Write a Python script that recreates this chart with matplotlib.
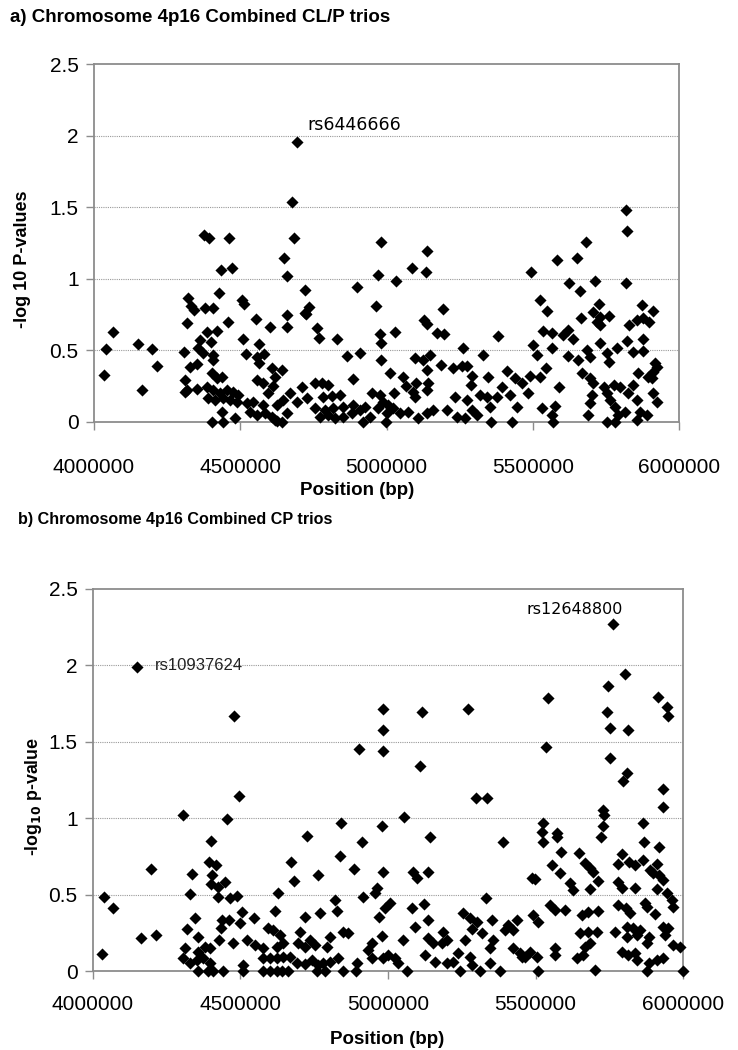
import matplotlib
matplotlib.use("Agg")
import matplotlib.pyplot as plt
import numpy as np

plt.rcParams['font.family'] = ['Liberation Sans', 'DejaVu Sans']

# (position in kb, -log10 p), panel a: CL/P trios
snps_a = [
    (4693, 1.96), (4678, 1.54), (4683, 1.285), (4376, 1.31), (4394, 1.285), (4463, 1.285),
    (4648, 1.15), (4660, 1.02), (4433, 1.06), (4472, 1.08), (4720, 0.92), (4721, 0.76),
    (4320, 0.87), (4427, 0.905), (4332, 0.81), (4343, 0.78), (4380, 0.795), (4406, 0.80),
    (4506, 0.853), (4514, 0.825), (4319, 0.695), (4457, 0.70), (4553, 0.72), (4602, 0.667),
    (4659, 0.748), (4659, 0.667), (4066, 0.627), (4040, 0.508), (4034, 0.33), (4152, 0.543),
    (4199, 0.508), (4217, 0.392), (4165, 0.224), (4309, 0.492), (4362, 0.574), (4385, 0.632),
    (4419, 0.637), (4399, 0.562), (4357, 0.515), (4374, 0.48), (4408, 0.469), (4406, 0.434),
    (4508, 0.578), (4565, 0.543), (4519, 0.473), (4556, 0.457), (4581, 0.473), (4565, 0.41),
    (4328, 0.387), (4353, 0.404), (4311, 0.294), (4317, 0.224), (4351, 0.229), (4402, 0.341),
    (4419, 0.306), (4436, 0.317), (4387, 0.247), (4408, 0.224), (4431, 0.201), (4454, 0.224),
    (4476, 0.212), (4493, 0.189), (4391, 0.166), (4414, 0.154), (4442, 0.166), (4465, 0.154),
    (4488, 0.142), (4402, 0.003), (4442, 0.003), (4482, 0.026), (4436, 0.073), (4607, 0.376),
    (4642, 0.364), (4619, 0.317), (4556, 0.294), (4579, 0.271), (4613, 0.252), (4596, 0.201),
    (4545, 0.142), (4579, 0.119), (4533, 0.073), (4556, 0.049), (4585, 0.061), (4607, 0.038),
    (4625, 0.01), (4642, 0.003), (4659, 0.061), (4670, 0.201), (4693, 0.142), (4710, 0.247),
    (4727, 0.166), (4619, 0.014), (4522, 0.131), (4625, 0.119), (4647, 0.154), (4311, 0.212),
    (4980, 1.261), (5137, 1.196), (4970, 1.028), (5086, 1.079), (5134, 1.047), (5033, 0.986),
    (4898, 0.947), (4964, 0.814), (5192, 0.79), (4736, 0.802), (4725, 0.753), (4764, 0.66),
    (4770, 0.585), (4830, 0.578), (4976, 0.613), (4981, 0.55), (5029, 0.632), (5128, 0.714),
    (5137, 0.686), (5174, 0.62), (5198, 0.613), (5382, 0.604), (5260, 0.515), (5329, 0.469),
    (4864, 0.462), (4909, 0.485), (4980, 0.434), (5098, 0.445), (5126, 0.434), (5149, 0.469),
    (5137, 0.364), (5185, 0.399), (5226, 0.376), (5257, 0.394), (5276, 0.394), (5012, 0.341),
    (4887, 0.299), (5058, 0.317), (5067, 0.252), (5101, 0.271), (5092, 0.212), (5143, 0.271),
    (5137, 0.224), (5291, 0.322), (5288, 0.259), (5348, 0.313), (5411, 0.359), (5439, 0.306),
    (5394, 0.243), (4756, 0.271), (4778, 0.275), (4801, 0.259), (4784, 0.177), (4813, 0.182),
    (4841, 0.189), (4756, 0.096), (4790, 0.084), (4818, 0.096), (4852, 0.107), (4887, 0.119),
    (4909, 0.084), (4927, 0.107), (4773, 0.038), (4801, 0.049), (4824, 0.026), (4852, 0.038),
    (4881, 0.061), (4919, 0.003), (4944, 0.038), (4949, 0.201), (4978, 0.189), (4989, 0.142),
    (5006, 0.119), (5026, 0.201), (4972, 0.096), (5001, 0.061), (4998, 0.003), (5023, 0.096),
    (5046, 0.061), (5075, 0.073), (5109, 0.026), (5137, 0.061), (5160, 0.084), (5098, 0.177),
    (5206, 0.084), (5234, 0.177), (5240, 0.038), (5268, 0.026), (5274, 0.154), (5291, 0.084),
    (5308, 0.049), (5320, 0.189), (5343, 0.177), (5354, 0.107), (5377, 0.177), (5356, 0.003),
    (5422, 0.189), (5445, 0.107),
    (5818, 1.483), (5823, 1.336), (5681, 1.261), (5582, 1.133), (5650, 1.145), (5493, 1.049),
    (5624, 0.97), (5662, 0.919), (5713, 0.986), (5818, 0.975), (5523, 0.853), (5548, 0.779),
    (5728, 0.825), (5707, 0.772), (5730, 0.737), (5759, 0.741), (5719, 0.702), (5730, 0.679),
    (5665, 0.725), (5872, 0.818), (5910, 0.776), (5830, 0.679), (5858, 0.714), (5878, 0.725),
    (5899, 0.702), (5536, 0.637), (5565, 0.62), (5602, 0.609), (5622, 0.644), (5502, 0.539),
    (5514, 0.469), (5565, 0.515), (5639, 0.578), (5684, 0.504), (5696, 0.457), (5730, 0.55),
    (5753, 0.48), (5759, 0.422), (5787, 0.515), (5619, 0.462), (5656, 0.434), (5821, 0.569),
    (5842, 0.492), (5876, 0.578), (5878, 0.499), (5462, 0.271), (5491, 0.322), (5523, 0.317),
    (5545, 0.376), (5485, 0.201), (5428, 0.003), (5531, 0.096), (5565, 0.049), (5576, 0.112),
    (5588, 0.247), (5568, 0.003), (5667, 0.341), (5696, 0.306), (5707, 0.271), (5744, 0.247),
    (5776, 0.259), (5798, 0.247), (5702, 0.189), (5696, 0.131), (5690, 0.049), (5753, 0.201),
    (5764, 0.154), (5781, 0.107), (5793, 0.049), (5816, 0.073), (5753, 0.003), (5781, 0.003),
    (5827, 0.201), (5844, 0.259), (5855, 0.154), (5867, 0.073), (5890, 0.049), (5855, 0.014),
    (5861, 0.341), (5895, 0.317), (5912, 0.352), (5918, 0.41), (5924, 0.387), (5910, 0.201),
    (5924, 0.142), (5907, 0.306),
]

# panel b: CP trios
snps_b = [
    (4148, 1.985), (4479, 1.666), (4494, 1.144), (4306, 1.017), (4453, 0.991), (4400, 0.852),
    (4724, 0.882), (4197, 0.664), (4335, 0.634), (4394, 0.714), (4417, 0.693), (4671, 0.714),
    (4683, 0.590), (4402, 0.627), (4399, 0.568), (4425, 0.551), (4448, 0.584), (4425, 0.486),
    (4464, 0.475), (4487, 0.490), (4037, 0.481), (4067, 0.409), (4329, 0.501), (4628, 0.512),
    (4617, 0.394), (4504, 0.388), (4498, 0.311), (4346, 0.344), (4320, 0.272), (4436, 0.333),
    (4462, 0.333), (4434, 0.279), (4546, 0.344), (4719, 0.355), (4163, 0.218), (4214, 0.235),
    (4032, 0.109), (4357, 0.224), (4380, 0.159), (4357, 0.126), (4397, 0.148), (4428, 0.202),
    (4476, 0.185), (4312, 0.148), (4306, 0.083), (4329, 0.050), (4351, 0.072), (4374, 0.083),
    (4397, 0.050), (4357, 0.0), (4391, 0.0), (4406, 0.0), (4440, 0.0), (4507, 0.039),
    (4510, 0.0), (4521, 0.202), (4549, 0.170), (4577, 0.148), (4594, 0.279), (4611, 0.268),
    (4634, 0.235), (4645, 0.181), (4623, 0.159), (4668, 0.093), (4577, 0.083), (4600, 0.083),
    (4623, 0.083), (4645, 0.089), (4577, 0.0), (4600, 0.0), (4623, 0.0), (4640, 0.0),
    (4662, 0.0), (4702, 0.257), (4696, 0.181), (4719, 0.159), (4690, 0.050), (4719, 0.045),
    (4984, 1.710), (5114, 1.695), (5272, 1.710), (4984, 1.575), (4903, 1.449), (4984, 1.440),
    (5109, 1.342), (5297, 1.133), (5337, 1.133), (5055, 1.006), (4841, 0.965), (4981, 0.950),
    (4911, 0.841), (5142, 0.873), (5389, 0.841), (4837, 0.752), (4764, 0.627), (4885, 0.667),
    (4982, 0.649), (5086, 0.649), (5099, 0.605), (5137, 0.649), (4962, 0.540), (4956, 0.507),
    (4916, 0.486), (4820, 0.464), (4828, 0.394), (4770, 0.377), (5332, 0.479), (5007, 0.442),
    (4990, 0.409), (4971, 0.355), (5080, 0.409), (5122, 0.436), (5253, 0.377), (5278, 0.344),
    (5301, 0.322), (5284, 0.272), (5318, 0.246), (5351, 0.333), (5092, 0.290), (5137, 0.333),
    (5188, 0.257), (5182, 0.181), (5199, 0.202), (5137, 0.213), (5154, 0.181), (5052, 0.202),
    (4979, 0.229), (4849, 0.257), (4866, 0.246), (4803, 0.224), (4792, 0.159), (4753, 0.170),
    (4736, 0.202), (4945, 0.181), (4933, 0.137), (4945, 0.083), (4984, 0.083), (5001, 0.104),
    (5024, 0.083), (5035, 0.050), (4741, 0.072), (4764, 0.039), (4781, 0.050), (4803, 0.061),
    (4758, 0.0), (4786, 0.0), (4832, 0.083), (4849, 0.0), (4894, 0.050), (4892, 0.0),
    (5063, 0.0), (5125, 0.104), (5159, 0.061), (5199, 0.050), (5222, 0.061), (5238, 0.115),
    (5244, 0.0), (5278, 0.093), (5284, 0.039), (5312, 0.0), (5346, 0.050), (5380, 0.0),
    (5261, 0.202), (5357, 0.202), (5346, 0.148),
    (5762, 2.266), (5803, 1.941), (5747, 1.863), (5544, 1.782), (5916, 1.793), (5945, 1.727),
    (5950, 1.666), (5741, 1.695), (5753, 1.586), (5815, 1.575), (5536, 1.462), (5753, 1.394),
    (5809, 1.296), (5796, 1.244), (5931, 1.187), (5933, 1.070), (5730, 1.052), (5732, 1.019),
    (5730, 0.950), (5721, 0.878), (5524, 0.965), (5521, 0.911), (5527, 0.845), (5574, 0.900),
    (5572, 0.873), (5586, 0.780), (5866, 0.965), (5868, 0.845), (5920, 0.808), (5649, 0.773),
    (5668, 0.708), (5685, 0.671), (5696, 0.649), (5555, 0.693), (5583, 0.638), (5487, 0.606),
    (5498, 0.599), (5617, 0.577), (5626, 0.529), (5713, 0.590), (5685, 0.534), (5792, 0.765),
    (5781, 0.699), (5818, 0.714), (5837, 0.693), (5863, 0.725), (5888, 0.660), (5911, 0.699),
    (5899, 0.638), (5920, 0.627), (5933, 0.595), (5911, 0.534), (5781, 0.584), (5792, 0.540),
    (5837, 0.540), (5945, 0.507), (5962, 0.464), (5967, 0.416), (5549, 0.431), (5566, 0.398),
    (5600, 0.398), (5657, 0.366), (5679, 0.388), (5713, 0.394), (5781, 0.431), (5807, 0.409),
    (5820, 0.377), (5871, 0.442), (5879, 0.420), (5905, 0.372), (5493, 0.366), (5510, 0.322),
    (5436, 0.333), (5408, 0.300), (5397, 0.268), (5425, 0.268), (5770, 0.257), (5809, 0.290),
    (5832, 0.279), (5854, 0.268), (5809, 0.224), (5843, 0.235), (5883, 0.224), (5877, 0.181),
    (5933, 0.290), (5950, 0.279), (5939, 0.235), (5651, 0.246), (5679, 0.257), (5707, 0.257),
    (5685, 0.181), (5668, 0.159), (5967, 0.170), (5990, 0.159), (5425, 0.148), (5448, 0.115),
    (5464, 0.093), (5481, 0.126), (5504, 0.093), (5453, 0.093), (5566, 0.148), (5566, 0.104),
    (5640, 0.083), (5662, 0.104), (5702, 0.006), (5510, 0.0), (5792, 0.126), (5815, 0.104),
    (5837, 0.115), (5843, 0.072), (5883, 0.050), (5877, 0.0), (5911, 0.072), (5933, 0.083),
    (5999, 0.0),
]

# labelled SNPs: (name, label x in bp, label y)
labels_a = [("rs6446666", 4728000, 2.08)]
labels_b = [("rs10937624", 4210000, 2.0), ("rs12648800", 5471000, 2.36)]

xticks = [4000000, 4500000, 5000000, 5500000, 6000000]
yticks = [0, 0.5, 1, 1.5, 2, 2.5]

GRAY = '#8c8c8c'


def style_axes(ax, xpad):
    ax.set_xlim(4000000, 6000000)
    ax.set_ylim(0, 2.5)
    ax.set_xticks(xticks)
    ax.set_xticklabels([str(t) for t in xticks])
    ax.set_yticks(yticks)
    ax.set_yticklabels(['0', '0.5', '1', '1.5', '2', '2.5'])
    ax.tick_params(axis='both', direction='out', length=6, width=1, color=GRAY,
                   labelsize=15, pad=5)
    ax.tick_params(axis='x', pad=xpad)
    for sp in ax.spines.values():
        sp.set_color(GRAY)
        sp.set_linewidth(1.3)
    for y in yticks[1:-1]:
        ax.axhline(y, color='#999999', lw=0.8, ls=(0, (1, 1)), zorder=0)


def plot_panel(ax, snps):
    pos = np.array([p for p, _ in snps]) * 1000
    val = np.array([v for _, v in snps])
    ax.scatter(pos, val, marker='D', s=38, color='black', linewidths=0,
               zorder=3, clip_on=False)


fig = plt.figure(figsize=(7.38, 10.5), dpi=100)

ax_a = fig.add_axes([0.1274, 0.5981, 0.7927, 0.3405])
style_axes(ax_a, 20)
plot_panel(ax_a, snps_a)
for name, x, y in labels_a:
    ax_a.text(x, y, name, fontsize=12.5, family='DejaVu Sans', color='black',
              ha='left', va='center')

ax_b = fig.add_axes([0.126, 0.0752, 0.7995, 0.3643])
style_axes(ax_b, 11)
plot_panel(ax_b, snps_b)
ax_b.text(labels_b[0][1], labels_b[0][2], labels_b[0][0], fontsize=12,
          ha='left', va='center', color='#222222')
ax_b.text(labels_b[1][1], labels_b[1][2], labels_b[1][0], fontsize=11.5,
          family='DejaVu Sans', ha='left', va='center', color='black')

fig.text(0.0136, 0.983, "a) Chromosome 4p16 Combined CL/P trios",
         fontsize=13.5, fontweight='bold', ha='left', va='center')
fig.text(0.0244, 0.505, "b) Chromosome 4p16 Combined CP trios",
         fontsize=11.6, fontweight='bold', ha='left', va='center')

fig.text(0.031, 0.753, "-log 10 P-values", fontsize=13, fontweight='bold',
         rotation=90, ha='center', va='center')
fig.text(0.045, 0.241, r"-log$_{\mathbf{10}}$ p-value", fontsize=12.8, fontweight='bold',
         rotation=90, ha='center', va='center')

fig.text(0.484, 0.533, "Position (bp)", fontsize=13.5, fontweight='bold',
         ha='center', va='center')
fig.text(0.524, 0.01, "Position (bp)", fontsize=13.5, fontweight='bold',
         ha='center', va='center')

fig.savefig("out.png", dpi=100)
